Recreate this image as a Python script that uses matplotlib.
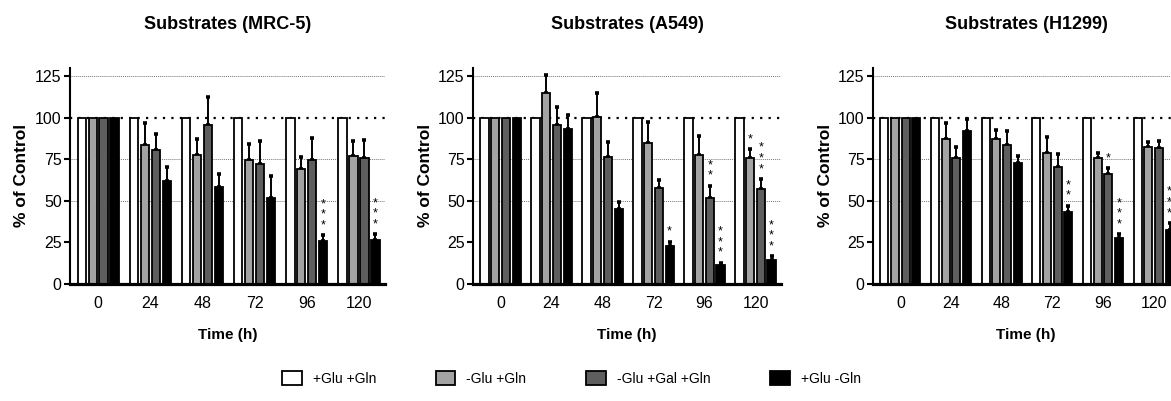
import matplotlib
matplotlib.use("Agg")
import matplotlib.pyplot as plt
import numpy as np
from matplotlib.patches import Patch

plt.rcParams['font.family'] = ['Liberation Sans', 'DejaVu Sans']

# ---------------- data ----------------
time_labels = ['0', '24', '48', '72', '96', '120']
series_labels = ['+Glu +Gln', '-Glu +Gln', '-Glu +Gal +Gln', '+Glu -Gln']
panel_titles = ['Substrates (MRC-5)', 'Substrates (A549)', 'Substrates (H1299)']

control = [100, 100, 100, 100, 100, 100]

mrc5_noglu = [100, 83.5, 77.3, 74.8, 69.2, 77.0]
mrc5_noglu_err = [0, 13.1, 9.7, 9.5, 7.1, 9.0]
mrc5_gal = [100, 80.3, 95.6, 71.8, 74.8, 75.9]
mrc5_gal_err = [0, 9.7, 16.9, 14.1, 13.1, 10.6]
mrc5_nogln = [100, 62.0, 58.4, 51.7, 25.8, 26.0]
mrc5_nogln_err = [0, 8.4, 7.4, 13.3, 3.2, 3.6]

a549_noglu = [100, 114.7, 100.2, 85.0, 77.6, 75.8]
a549_noglu_err = [0, 11.3, 14.8, 12.2, 11.1, 5.2]
a549_gal = [100, 95.8, 76.4, 57.7, 51.8, 56.9]
a549_gal_err = [0, 10.7, 8.9, 4.6, 7.1, 6.0]
a549_nogln = [100, 93.3, 45.2, 22.8, 11.1, 14.1]
a549_nogln_err = [0, 8.1, 4.2, 2.4, 1.4, 2.2]

h1299_noglu = [100, 87.0, 87.3, 78.6, 75.6, 82.2]
h1299_noglu_err = [0, 10.0, 5.6, 9.9, 3.0, 3.2]
h1299_gal = [100, 76.0, 83.3, 70.1, 66.1, 81.8]
h1299_gal_err = [0, 6.4, 8.8, 7.8, 3.5, 4.4]
h1299_nogln = [100, 91.7, 72.5, 42.9, 27.2, 32.4]
h1299_nogln_err = [0, 7.5, 4.5, 4.0, 2.4, 4.0]

# significance marks: (time index, series index, label)
mrc5_sig = [(4, 3, '***'), (5, 3, '***')]
a549_sig = [(3, 3, '*'), (4, 2, '**'), (4, 3, '***'), (5, 1, '*'), (5, 2, '***'), (5, 3, '***')]
h1299_sig = [(3, 3, '**'), (4, 2, '*'), (4, 3, '***'), (5, 3, '***')]

panels = [
    ([control, mrc5_noglu, mrc5_gal, mrc5_nogln],
     [None, mrc5_noglu_err, mrc5_gal_err, mrc5_nogln_err], mrc5_sig),
    ([control, a549_noglu, a549_gal, a549_nogln],
     [None, a549_noglu_err, a549_gal_err, a549_nogln_err], a549_sig),
    ([control, h1299_noglu, h1299_gal, h1299_nogln],
     [None, h1299_noglu_err, h1299_gal_err, h1299_nogln_err], h1299_sig),
]

colors = ['white', '#a3a3a3', '#5e5e5e', 'black']

# ---------------- figure ----------------
W, H = 1171, 401
fig = plt.figure(figsize=(W / 100, H / 100), dpi=100)

ax_px = [(70, 315), (473, 308), (873, 306)]
bottom_px, top_px = 283.5, 68

pitch = 0.21
width = 0.16
x = np.arange(len(time_labels))

for (left, wpx), title, (vals, errs, sigs) in zip(ax_px, panel_titles, panels):
    ax = fig.add_axes([left / W, (H - bottom_px) / H, wpx / W, (bottom_px - top_px) / H])
    ax.set_xlim(-0.54, 5.5)
    ax.set_ylim(0, 130)

    for yv in (50, 75, 125):
        ax.axhline(yv, color='#777777', lw=0.7, ls=(0, (1, 1)), zorder=0)
    ax.axhline(100, color='black', lw=1.6, ls=(0, (1, 2.8)), zorder=0)

    for i, (v, e, c) in enumerate(zip(vals, errs, colors)):
        xpos = x + (i - 1.5) * pitch
        ax.bar(xpos, v, width=width, color=c, edgecolor='black', linewidth=1.3, zorder=2)
        if e is not None:
            xe = xpos[1:]
            ve = np.array(v[1:])
            ee = np.array(e[1:])
            ax.errorbar(xe, ve, yerr=[np.zeros_like(ee), ee], fmt='none', ecolor='black',
                        elinewidth=1.4, capsize=1.6, capthick=2.6, zorder=1)

    for (g, s, lab) in sigs:
        xs = x[g] + (s - 1.5) * pitch
        top = vals[s][g] + errs[s][g]
        ax.text(xs, top + 2.5, '\n'.join(lab), ha='center', va='bottom',
                fontsize=9, linespacing=0.85, zorder=3)

    ax.spines['top'].set_visible(False)
    ax.spines['right'].set_visible(False)
    ax.spines['left'].set_linewidth(1.5)
    ax.spines['bottom'].set_linewidth(2.3)
    ax.set_yticks([0, 25, 50, 75, 100, 125])
    ax.set_xticks(x)
    ax.set_xticklabels(time_labels)
    ax.tick_params(axis='y', length=4, width=1.5, labelsize=11.5, pad=2)
    ax.tick_params(axis='x', length=0, labelsize=11.5, pad=9)
    ax.set_ylabel('% of Control', fontsize=12.5, fontweight='bold')
    ax.yaxis.set_label_coords(-0.13, 0.5)
    ax.set_xlabel('Time (h)', fontsize=11, fontweight='bold', labelpad=12)
    ax.set_title(title, fontsize=13, fontweight='bold', pad=28)

handles = [Patch(facecolor=c, edgecolor='black', linewidth=1.3) for c in colors]
fig.legend(handles, series_labels, loc='center', bbox_to_anchor=(0.488, 0.057), ncol=4,
           frameon=False, fontsize=10, handlelength=1.4, handleheight=1.2,
           columnspacing=4.3, handletextpad=0.8)

fig.savefig('out.png', dpi=100)
